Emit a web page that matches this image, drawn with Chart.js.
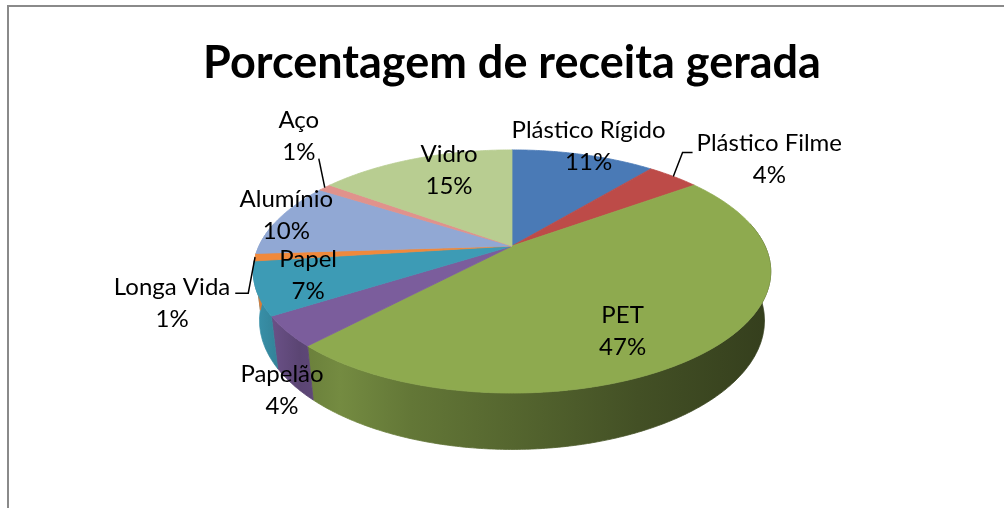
<!DOCTYPE html>
<html>
<head>
<meta charset="utf-8">
<script src="https://cdn.jsdelivr.net/npm/chart.js@4.4.1/dist/chart.umd.min.js"></script>
<style>
  html, body { margin: 0; padding: 0; background: #fff; overflow: hidden; }
  #wrap { position: relative; width: 1004px; height: 508px; }
  #frame { position: absolute; left: 7px; top: 5px; width: 1100px; height: 600px;
           border: 2px solid #8a8a8a; pointer-events: none; }
</style>
</head>
<body>
<div id="wrap">
  <canvas id="pieChart" width="1004" height="508"></canvas>
  <div id="frame"></div>
</div>
<script>
const categories = ['Plástico Rígido', 'Plástico Filme', 'PET', 'Papelão', 'Papel',
                    'Longa Vida', 'Alumínio', 'Aço', 'Vidro'];
const shareValues = [11, 4, 47, 4, 7, 1, 10, 1, 15];
const percentLabels = shareValues.map(v => v + '%');
const sliceColors = ['#4a7ab6', '#bd4b48', '#8eaa4f', '#7b5d9c', '#3d9bb5',
                     '#f0893c', '#91a8d4', '#e0928c', '#b8cd91'];

// label placement: fraction of radius on the mid angle + small nudge (px)
const labelRadius = [1, 1, 0.7, 1, 0.8, 1, 0.9, 1, 0.8];
const labelNudgeX = [5, 96, -21, -5, -2, -83, -15, -26, 17];
const labelNudgeY = [-8, -17, 17, 59, -4, 46, -6, -51, -4];
const leaderSide  = [null, 'right', null, null, null, 'left', null, 'top', null];

// 3d look of the pie
const ELEV = 27.35 * Math.PI / 180; // camera elevation
const DIST = 4.24;                  // camera distance, in pie radii
const HALF_W = 253;                 // half width of the pie on screen
const THICK = 0.22;                 // pie height, in radii
const LINE_H = 32;

function project(cx, cy, X, Y, Z) {
  const depth = DIST - Y * Math.cos(ELEV) - Z * Math.sin(ELEV);
  const k = HALF_W * DIST / depth;
  return [cx + X * k, cy + (Y * Math.sin(ELEV) - Z * Math.cos(ELEV)) * k];
}

function shade(hex, f) {
  const n = parseInt(hex.slice(1), 16);
  const r = Math.round(((n >> 16) & 255) * f);
  const g = Math.round(((n >> 8) & 255) * f);
  const b = Math.round((n & 255) * f);
  return `rgb(${r},${g},${b})`;
}

const pie3d = {
  id: 'pie3d',
  beforeDatasetsDraw(chart) {
    const ctx = chart.ctx;
    const arcs = chart.getDatasetMeta(0).data;
    const cx = arcs[0].x, cy = arcs[0].y;
    const step = Math.PI / 360;

    // side wall (front part only, the rest is hidden under the top)
    arcs.forEach(arc => {
      const a0 = Math.max(arc.startAngle, -0.2);
      const a1 = Math.min(arc.endAngle, Math.PI + 0.2);
      if (a1 <= a0) return;
      const col = arc.options.backgroundColor;
      const grad = ctx.createLinearGradient(cx - HALF_W, 0, cx + HALF_W, 0);
      grad.addColorStop(0, shade(col, 0.92));
      grad.addColorStop(0.08, shade(col, 0.74));
      grad.addColorStop(0.16, shade(col, 0.82));
      grad.addColorStop(0.3, shade(col, 0.7));
      grad.addColorStop(0.5, shade(col, 0.6));
      grad.addColorStop(0.75, shade(col, 0.47));
      grad.addColorStop(1, shade(col, 0.37));
      const n = Math.max(2, Math.ceil((a1 - a0) / step));
      ctx.beginPath();
      for (let k = 0; k <= n; k++) {
        const a = a0 + (a1 - a0) * k / n;
        const p = project(cx, cy, Math.cos(a), Math.sin(a), 0);
        k === 0 ? ctx.moveTo(p[0], p[1]) : ctx.lineTo(p[0], p[1]);
      }
      for (let k = n; k >= 0; k--) {
        const a = a0 + (a1 - a0) * k / n;
        const p = project(cx, cy, Math.cos(a), Math.sin(a), -THICK);
        ctx.lineTo(p[0], p[1]);
      }
      ctx.closePath();
      ctx.fillStyle = grad;
      ctx.strokeStyle = grad;
      ctx.lineWidth = 0.8;
      ctx.fill();
      ctx.stroke();
    });

    // top face
    arcs.forEach(arc => {
      const a0 = arc.startAngle, a1 = arc.endAngle;
      const n = Math.max(2, Math.ceil((a1 - a0) / step));
      ctx.beginPath();
      ctx.moveTo(cx, cy);
      for (let k = 0; k <= n; k++) {
        const a = a0 + (a1 - a0) * k / n;
        const p = project(cx, cy, Math.cos(a), Math.sin(a), 0);
        ctx.lineTo(p[0], p[1]);
      }
      ctx.closePath();
      ctx.fillStyle = arc.options.backgroundColor;
      ctx.strokeStyle = arc.options.backgroundColor;
      ctx.lineWidth = 0.8;
      ctx.fill();
      ctx.stroke();
    });
    return false;
  },
  afterDraw(chart) {
    const ctx = chart.ctx;
    const arcs = chart.getDatasetMeta(0).data;
    const cx = arcs[0].x, cy = arcs[0].y;
    ctx.save();
    ctx.font = '24px Lato';
    ctx.fillStyle = '#000';
    ctx.strokeStyle = '#000';
    ctx.lineWidth = 1.5;
    ctx.textAlign = 'center';
    ctx.textBaseline = 'middle';
    arcs.forEach((arc, i) => {
      const mid = (arc.startAngle + arc.endAngle) / 2;
      const f = labelRadius[i];
      const p = project(cx, cy, f * Math.cos(mid), f * Math.sin(mid), 0);
      const lx = p[0] + labelNudgeX[i];
      const ly = p[1] + labelNudgeY[i];
      const y1 = ly - LINE_H / 2, y2 = ly + LINE_H / 2;
      ctx.fillText(categories[i], lx, y1);
      ctx.fillText(percentLabels[i], lx, y2);

      const side = leaderSide[i];
      if (!side) return;
      const e = project(cx, cy, Math.cos(mid), Math.sin(mid), 0);
      const w = ctx.measureText(categories[i]).width;
      ctx.beginPath();
      ctx.moveTo(e[0], e[1]);
      if (side === 'right') {
        const left = lx - w / 2;
        ctx.lineTo(left - 14, y1 + 9);
        ctx.lineTo(left - 4, y1 + 9);
      } else if (side === 'left') {
        const right = lx + w / 2;
        ctx.lineTo(right + 18, y1 + 6);
        ctx.lineTo(right + 5, y1 + 6);
      } else {
        ctx.lineTo(lx + 20, y2 + 6);
      }
      ctx.stroke();
    });
    ctx.restore();
  }
};

const ctx = document.getElementById('pieChart');

new Chart(ctx, {
  type: 'pie',
  data: {
    labels: categories,
    datasets: [{
      data: shareValues,
      backgroundColor: sliceColors,
      borderWidth: 0,
    }]
  },
  options: {
    responsive: false,
    animation: false,
    events: [],
    layout: {
      padding: { left: 20, right: 0, top: 0, bottom: 106 }
    },
    plugins: {
      legend: { display: false },
      tooltip: { enabled: false },
      title: {
        display: true,
        text: 'Porcentagem de receita gerada',
        color: '#000',
        font: { family: 'Lato', size: 45, weight: 'bold' },
        padding: { top: 36, bottom: 0 }
      }
    }
  },
  plugins: [pie3d]
});
</script>
</body>
</html>
